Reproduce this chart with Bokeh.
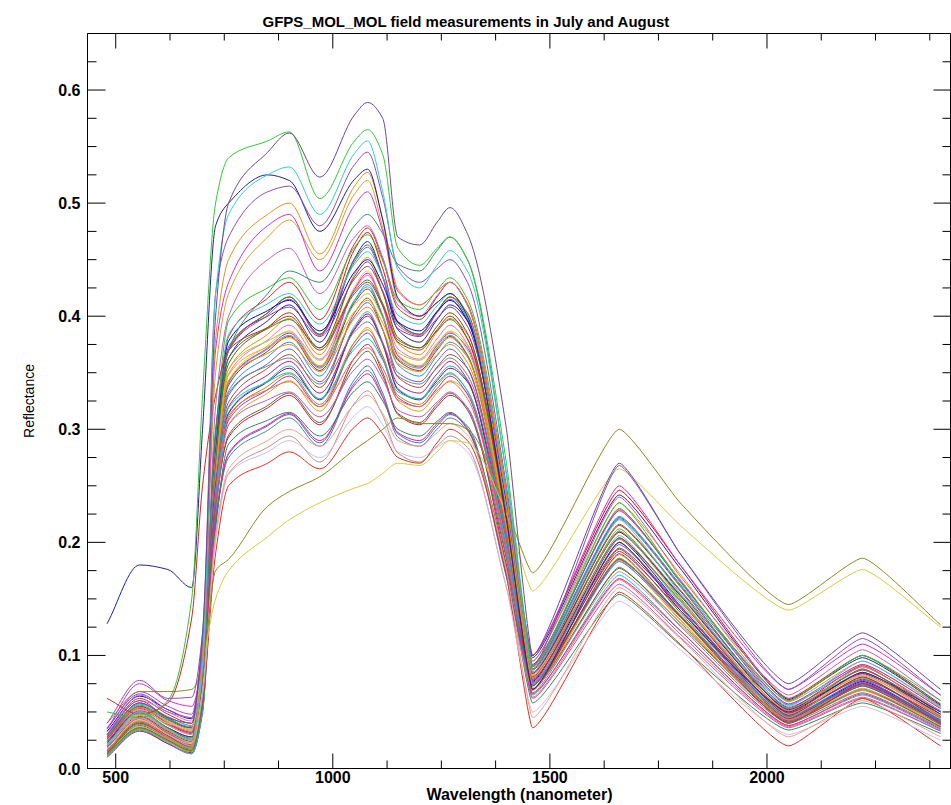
import math
from bokeh.plotting import figure
from bokeh.models import Range1d, LinearAxis, FixedTicker, PrintfTickFormatter, Title
from bokeh.embed import file_html
from bokeh.resources import INLINE

# wavelength nodes (nm) at which each spectrum is read
wavelength = [480, 555, 620, 675, 700, 730, 760, 850, 900, 970, 1050, 1080, 1115,
              1150, 1200, 1240, 1270, 1310, 1400, 1460, 1660, 1800, 2050, 2220, 2400]

x_major = [500, 1000, 1500, 2000]
x_minor = [625, 750, 875, 1125, 1250, 1375, 1625, 1750, 1875, 2125, 2250, 2375]
y_major = [0.0, 0.1, 0.2, 0.3, 0.4, 0.5, 0.6]
y_minor = [0.025, 0.05, 0.075, 0.125, 0.15, 0.175, 0.225, 0.25, 0.275, 0.325, 0.35,
           0.375, 0.425, 0.45, 0.475, 0.525, 0.55, 0.575, 0.625]

# main bundle of reflectance spectra
b01 = [0.030,0.062,0.048,0.040,0.100,0.296,0.382,0.416,0.430,0.397,0.464,0.478,0.450,0.407,0.397,0.417,0.430,0.411,0.239,0.091,0.229,0.167,0.053,0.091,0.048]
b02 = [0.022,0.055,0.040,0.032,0.090,0.293,0.396,0.425,0.434,0.406,0.461,0.472,0.449,0.414,0.406,0.423,0.434,0.415,0.245,0.080,0.212,0.151,0.047,0.080,0.042]
b03 = [0.018,0.045,0.032,0.022,0.070,0.289,0.363,0.396,0.410,0.377,0.451,0.466,0.435,0.388,0.377,0.397,0.410,0.396,0.224,0.098,0.242,0.177,0.061,0.098,0.056]
b04 = [0.035,0.068,0.055,0.048,0.110,0.286,0.369,0.401,0.415,0.383,0.448,0.461,0.434,0.392,0.383,0.403,0.415,0.396,0.231,0.088,0.221,0.161,0.051,0.088,0.046]
b05 = [0.015,0.040,0.028,0.018,0.060,0.283,0.384,0.411,0.420,0.393,0.446,0.457,0.435,0.401,0.393,0.409,0.420,0.402,0.238,0.078,0.206,0.146,0.046,0.078,0.041]
b06 = [0.025,0.052,0.038,0.030,0.080,0.280,0.353,0.384,0.398,0.366,0.437,0.452,0.422,0.376,0.366,0.386,0.398,0.384,0.217,0.095,0.235,0.172,0.059,0.095,0.054]
b07 = [0.012,0.036,0.025,0.016,0.055,0.278,0.358,0.390,0.403,0.372,0.435,0.448,0.421,0.381,0.372,0.391,0.403,0.385,0.224,0.085,0.215,0.157,0.049,0.085,0.045]
b08 = [0.028,0.058,0.045,0.036,0.090,0.275,0.373,0.400,0.408,0.382,0.433,0.444,0.422,0.389,0.382,0.398,0.408,0.391,0.231,0.075,0.200,0.142,0.044,0.075,0.040]
b09 = [0.020,0.048,0.034,0.025,0.070,0.273,0.343,0.374,0.387,0.356,0.426,0.440,0.411,0.366,0.356,0.375,0.387,0.374,0.211,0.092,0.229,0.167,0.057,0.092,0.053]
b10 = [0.032,0.060,0.050,0.042,0.100,0.270,0.349,0.379,0.392,0.362,0.423,0.436,0.410,0.371,0.362,0.380,0.392,0.375,0.218,0.083,0.209,0.153,0.048,0.083,0.044]
b11 = [0.014,0.038,0.026,0.017,0.060,0.268,0.363,0.389,0.397,0.372,0.422,0.432,0.411,0.379,0.372,0.387,0.397,0.380,0.225,0.073,0.194,0.138,0.043,0.073,0.039]
b12 = [0.024,0.050,0.036,0.028,0.075,0.265,0.334,0.364,0.377,0.347,0.414,0.428,0.400,0.357,0.347,0.365,0.377,0.364,0.205,0.090,0.223,0.163,0.056,0.090,0.051]
b13 = [0.010,0.033,0.022,0.014,0.050,0.263,0.339,0.369,0.382,0.352,0.412,0.424,0.399,0.361,0.352,0.370,0.382,0.365,0.212,0.081,0.204,0.148,0.047,0.081,0.042]
b14 = [0.026,0.054,0.042,0.034,0.085,0.260,0.353,0.378,0.386,0.361,0.410,0.420,0.399,0.368,0.361,0.376,0.386,0.370,0.218,0.071,0.189,0.134,0.042,0.071,0.038]
b15 = [0.018,0.044,0.030,0.021,0.065,0.258,0.324,0.354,0.366,0.337,0.403,0.416,0.388,0.346,0.337,0.355,0.366,0.354,0.200,0.087,0.216,0.158,0.054,0.087,0.050]
b16 = [0.036,0.066,0.052,0.045,0.110,0.255,0.330,0.358,0.371,0.342,0.400,0.412,0.388,0.350,0.342,0.360,0.371,0.354,0.206,0.078,0.198,0.144,0.045,0.078,0.041]
b17 = [0.012,0.035,0.024,0.015,0.055,0.253,0.343,0.367,0.375,0.351,0.398,0.408,0.388,0.358,0.351,0.366,0.375,0.359,0.212,0.069,0.184,0.131,0.041,0.069,0.037]
b18 = [0.022,0.049,0.035,0.027,0.070,0.250,0.315,0.343,0.356,0.327,0.391,0.404,0.377,0.336,0.327,0.345,0.356,0.343,0.194,0.085,0.210,0.154,0.053,0.085,0.048]
b19 = [0.016,0.042,0.029,0.020,0.060,0.248,0.320,0.348,0.360,0.332,0.388,0.400,0.376,0.340,0.332,0.349,0.360,0.344,0.200,0.076,0.192,0.140,0.044,0.076,0.040]
b20 = [0.030,0.057,0.046,0.038,0.090,0.245,0.332,0.356,0.363,0.340,0.386,0.395,0.376,0.347,0.340,0.354,0.363,0.348,0.205,0.067,0.178,0.126,0.040,0.067,0.036]
b21 = [0.013,0.037,0.026,0.016,0.055,0.242,0.304,0.332,0.343,0.316,0.377,0.390,0.364,0.325,0.316,0.332,0.343,0.332,0.187,0.082,0.203,0.148,0.051,0.082,0.047]
b22 = [0.024,0.051,0.039,0.031,0.080,0.239,0.308,0.335,0.347,0.320,0.374,0.385,0.362,0.328,0.320,0.336,0.347,0.331,0.193,0.073,0.185,0.135,0.042,0.073,0.039]
b23 = [0.011,0.034,0.023,0.013,0.050,0.236,0.319,0.342,0.350,0.327,0.371,0.380,0.361,0.333,0.327,0.341,0.350,0.334,0.198,0.065,0.171,0.122,0.038,0.065,0.034]
b24 = [0.020,0.046,0.033,0.024,0.065,0.233,0.293,0.319,0.330,0.304,0.363,0.375,0.350,0.313,0.304,0.320,0.330,0.319,0.180,0.079,0.195,0.143,0.049,0.079,0.045]
b25 = [0.028,0.055,0.043,0.035,0.085,0.229,0.295,0.321,0.332,0.306,0.358,0.369,0.347,0.314,0.306,0.322,0.332,0.317,0.185,0.070,0.177,0.129,0.041,0.070,0.037]
b26 = [0.015,0.039,0.027,0.018,0.060,0.224,0.304,0.326,0.333,0.311,0.353,0.362,0.344,0.317,0.311,0.324,0.333,0.319,0.188,0.062,0.163,0.116,0.036,0.062,0.033]
b27 = [0.019,0.045,0.031,0.022,0.065,0.221,0.278,0.303,0.313,0.288,0.344,0.356,0.332,0.296,0.288,0.303,0.313,0.303,0.171,0.075,0.185,0.135,0.046,0.075,0.043]
b28 = [0.026,0.053,0.040,0.032,0.080,0.216,0.279,0.304,0.314,0.290,0.339,0.349,0.328,0.297,0.290,0.305,0.314,0.300,0.175,0.066,0.168,0.122,0.038,0.066,0.035]
b29 = [0.013,0.036,0.025,0.016,0.055,0.212,0.287,0.308,0.315,0.294,0.334,0.342,0.325,0.300,0.294,0.307,0.315,0.301,0.178,0.058,0.154,0.109,0.034,0.058,0.031]
b30 = [0.021,0.047,0.034,0.025,0.070,0.207,0.261,0.284,0.294,0.271,0.323,0.334,0.312,0.279,0.271,0.285,0.294,0.284,0.160,0.070,0.174,0.127,0.043,0.070,0.040]
c01 = [0.026,0.058,0.044,0.036,0.090,0.294,0.370,0.403,0.417,0.384,0.459,0.474,0.442,0.395,0.384,0.404,0.417,0.403,0.228,0.100,0.246,0.180,0.062,0.100,0.057]
c02 = [0.016,0.041,0.029,0.019,0.060,0.287,0.370,0.403,0.417,0.384,0.450,0.463,0.435,0.394,0.384,0.404,0.417,0.398,0.232,0.088,0.222,0.162,0.051,0.088,0.046]
c03 = [0.033,0.064,0.052,0.044,0.100,0.279,0.378,0.405,0.414,0.387,0.439,0.450,0.428,0.395,0.387,0.404,0.414,0.396,0.234,0.077,0.203,0.144,0.045,0.077,0.041]
c04 = [0.011,0.034,0.022,0.013,0.050,0.272,0.342,0.372,0.385,0.355,0.424,0.438,0.409,0.365,0.355,0.374,0.385,0.372,0.210,0.092,0.228,0.166,0.057,0.092,0.053]
c05 = [0.029,0.056,0.044,0.037,0.085,0.264,0.341,0.371,0.383,0.354,0.414,0.426,0.401,0.362,0.354,0.372,0.383,0.366,0.213,0.081,0.204,0.149,0.047,0.081,0.043]
c06 = [0.019,0.045,0.032,0.023,0.065,0.257,0.348,0.373,0.381,0.356,0.404,0.414,0.394,0.363,0.356,0.371,0.381,0.364,0.215,0.070,0.186,0.132,0.041,0.070,0.037]
c07 = [0.023,0.050,0.036,0.028,0.075,0.249,0.314,0.342,0.354,0.326,0.389,0.402,0.375,0.335,0.326,0.343,0.354,0.342,0.193,0.084,0.209,0.153,0.052,0.084,0.048]
c08 = [0.012,0.035,0.024,0.015,0.055,0.241,0.310,0.338,0.349,0.322,0.377,0.388,0.365,0.330,0.322,0.339,0.349,0.334,0.194,0.074,0.186,0.136,0.043,0.074,0.039]
c09 = [0.027,0.054,0.041,0.033,0.080,0.231,0.312,0.335,0.342,0.320,0.363,0.372,0.354,0.326,0.320,0.334,0.342,0.327,0.193,0.063,0.167,0.119,0.037,0.063,0.033]
c10 = [0.016,0.040,0.028,0.019,0.060,0.218,0.275,0.299,0.310,0.285,0.341,0.352,0.329,0.293,0.285,0.300,0.310,0.299,0.169,0.074,0.183,0.134,0.046,0.074,0.042]

# distinct spectra
red_low  = [0.014,0.040,0.028,0.020,0.060,0.190,0.250,0.270,0.280,0.265,0.302,0.310,0.296,0.275,0.270,0.288,0.300,0.290,0.170,0.036,0.156,0.110,0.020,0.062,0.020]
lavender = [0.020,0.045,0.030,0.022,0.070,0.200,0.260,0.280,0.290,0.275,0.312,0.320,0.304,0.280,0.275,0.284,0.290,0.280,0.160,0.050,0.148,0.105,0.030,0.055,0.025]
salmon   = [0.018,0.043,0.030,0.020,0.065,0.205,0.265,0.290,0.300,0.285,0.322,0.330,0.314,0.290,0.285,0.297,0.305,0.295,0.175,0.045,0.160,0.115,0.028,0.060,0.028]
olive    = [0.040,0.068,0.068,0.070,0.090,0.175,0.185,0.232,0.245,0.258,0.282,0.290,0.300,0.310,0.305,0.305,0.305,0.300,0.230,0.173,0.300,0.235,0.145,0.186,0.127]
yellow   = [0.020,0.050,0.040,0.035,0.090,0.150,0.175,0.205,0.220,0.235,0.248,0.252,0.261,0.270,0.268,0.280,0.290,0.288,0.225,0.157,0.265,0.215,0.140,0.176,0.125]
purple   = [0.030,0.060,0.045,0.040,0.120,0.400,0.500,0.545,0.562,0.523,0.578,0.589,0.575,0.470,0.463,0.483,0.496,0.473,0.300,0.100,0.270,0.190,0.075,0.120,0.070]
green    = [0.050,0.045,0.060,0.150,0.330,0.500,0.540,0.555,0.563,0.504,0.555,0.565,0.543,0.460,0.445,0.460,0.470,0.450,0.270,0.090,0.235,0.165,0.060,0.100,0.060]
cyan     = [0.020,0.050,0.035,0.025,0.090,0.420,0.490,0.525,0.532,0.490,0.544,0.555,0.510,0.441,0.425,0.445,0.458,0.440,0.260,0.085,0.220,0.155,0.055,0.095,0.055]
purple2  = [0.040,0.078,0.062,0.063,0.120,0.420,0.470,0.510,0.515,0.480,0.534,0.545,0.505,0.444,0.430,0.442,0.450,0.430,0.250,0.090,0.268,0.190,0.070,0.115,0.065]
navy     = [0.128,0.180,0.176,0.160,0.300,0.480,0.500,0.525,0.520,0.475,0.521,0.530,0.485,0.416,0.400,0.412,0.420,0.400,0.220,0.070,0.200,0.140,0.050,0.085,0.050]
orange   = [0.016,0.042,0.028,0.018,0.100,0.380,0.450,0.490,0.500,0.455,0.515,0.527,0.486,0.424,0.410,0.422,0.430,0.410,0.240,0.080,0.210,0.150,0.050,0.090,0.050]
magenta  = [0.035,0.075,0.060,0.055,0.100,0.370,0.430,0.480,0.490,0.440,0.498,0.510,0.475,0.422,0.410,0.422,0.430,0.410,0.240,0.100,0.250,0.180,0.070,0.110,0.065]
golden   = [0.020,0.048,0.034,0.025,0.090,0.350,0.420,0.470,0.485,0.450,0.508,0.520,0.478,0.414,0.400,0.412,0.420,0.400,0.230,0.075,0.200,0.140,0.045,0.085,0.045]
teal     = [0.020,0.050,0.036,0.026,0.080,0.300,0.370,0.420,0.440,0.430,0.480,0.490,0.473,0.446,0.440,0.458,0.470,0.450,0.260,0.090,0.230,0.165,0.060,0.100,0.055]
orchid   = [0.030,0.065,0.050,0.045,0.080,0.320,0.400,0.450,0.460,0.420,0.470,0.480,0.452,0.410,0.400,0.418,0.430,0.410,0.240,0.095,0.240,0.170,0.065,0.105,0.060]
red_high = [0.062,0.048,0.058,0.133,0.250,0.330,0.370,0.390,0.400,0.370,0.420,0.430,0.409,0.377,0.370,0.388,0.400,0.380,0.220,0.070,0.190,0.135,0.040,0.075,0.040]

bundle = [b01, c01, b02, b03, c02, b04, b05, b06, c03, b07, b08, b09, c04, b10, b11,
          b12, c05, b13, b14, b15, c06, b16, b17, b18, c07, b19, b20, b21, c08, b22,
          b23, b24, c09, b25, b26, b27, c10, b28, b29, b30]
bundle_colors = ["#e6261f", "#ff0000", "#2fc42f", "#2222aa", "#00b000", "#cc33cc",
                 "#30c8c8", "#e69500", "#0000ff", "#8b4513", "#7b3fa0", "#d8d02a",
                 "#ff00ff", "#ff69b4", "#228b22", "#1e90ff", "#00c0c0", "#b22222",
                 "#9acd32", "#a0522d", "#ffa500", "#6a5acd", "#ff8c00", "#20b2aa",
                 "#800080", "#c71585", "#708090", "#daa520", "#b8860b", "#9932cc",
                 "#00ced1", "#dc143c", "#ff6347", "#556b2f", "#ba55d3", "#4169e1",
                 "#4682b4", "#ff1493", "#2e8b57", "#bc8f8f"]

specials = [red_low, lavender, salmon, olive, yellow, red_high, orchid, teal, golden,
            magenta, orange, navy, purple2, cyan, green, purple]
special_colors = ["#e03020", "#d4bce0", "#f0a090", "#8b8b22", "#d8cc40", "#d02820",
                  "#c060c0", "#3a8a6a", "#d8a030", "#d030d0", "#e89020", "#2020a0",
                  "#8a50b8", "#30d0d0", "#33c833", "#6a4a9a"]

FONT = "Liberation Sans"
x_lo, x_hi = 435, 2425
y_lo, y_hi = 0.0, 0.65
SWIR_START = 1400   # beyond this the spectra are drawn with straighter, corner-rounded segments

p = figure(width=951, height=805, x_range=Range1d(x_lo, x_hi), y_range=Range1d(y_lo, y_hi),
           output_backend="svg", toolbar_location=None,
           x_axis_type=None, y_axis_type=None,
           min_border_left=87, min_border_right=0, min_border_top=33, min_border_bottom=36)
p.background_fill_color = "white"
p.border_fill_color = "white"
p.outline_line_color = "black"
p.outline_line_width = 1
p.xgrid.visible = False
p.ygrid.visible = False


def smooth_line(xs, ys, color):
    """Draw the spectrum as a smooth monotone curve through its nodes using
    Bokeh's own bezier glyph; no extra data points are created."""
    n = len(xs)
    h = [xs[i + 1] - xs[i] for i in range(n - 1)]
    d = [(ys[i + 1] - ys[i]) / h[i] for i in range(n - 1)]
    m = [0.0] * n
    m[0], m[-1] = d[0], d[-1]
    for i in range(1, n - 1):
        if d[i - 1] * d[i] <= 0:
            m[i] = 0.0
        else:
            w1 = 2 * h[i] + h[i - 1]
            w2 = h[i] + 2 * h[i - 1]
            m[i] = (w1 + w2) / (w1 / d[i - 1] + w2 / d[i])
    cx0, cy0, cx1, cy1 = [], [], [], []
    for i in range(n - 1):
        k = 0.15 if xs[i] >= SWIR_START else 1.0 / 3.0
        cx0.append(xs[i] + k * h[i])
        cy0.append(ys[i] + m[i] * k * h[i])
        cx1.append(xs[i + 1] - k * h[i])
        cy1.append(ys[i + 1] - m[i + 1] * k * h[i])
    p.bezier(x0=xs[:-1], y0=ys[:-1], x1=xs[1:], y1=ys[1:],
             cx0=cx0, cy0=cy0, cx1=cx1, cy1=cy1, line_color=color, line_width=1)


for spec, col in zip(bundle, bundle_colors):
    smooth_line(wavelength, spec, col)
for spec, col in zip(specials, special_colors):
    smooth_line(wavelength, spec, col)

# inward tick marks (IDL style): dash markers centred on the frame edges,
# the outer half is clipped away by the frame
V = math.pi / 2
p.scatter([x_lo] * len(y_major), y_major, marker="dash", size=36, line_color="black", line_width=1)
p.scatter([x_lo] * len(y_minor), y_minor, marker="dash", size=18, line_color="black", line_width=1)
p.scatter([x_hi] * len(y_major), y_major, marker="dash", size=36, line_color="black", line_width=1)
p.scatter([x_hi] * len(y_minor), y_minor, marker="dash", size=18, line_color="black", line_width=1)
p.scatter(x_major, [y_lo] * len(x_major), marker="dash", size=30, angle=V, line_color="black", line_width=1)
p.scatter(x_minor, [y_lo] * len(x_minor), marker="dash", size=16, angle=V, line_color="black", line_width=1)
p.scatter(x_major, [y_hi] * len(x_major), marker="dash", size=30, angle=V, line_color="black", line_width=1)
p.scatter(x_minor, [y_hi] * len(x_minor), marker="dash", size=14, angle=V, line_color="black", line_width=1)

xt = FixedTicker(ticks=x_major, minor_ticks=x_minor)
yt = FixedTicker(ticks=y_major, minor_ticks=y_minor)


def label_axis(ticker, fmt, label, label_size, label_style, standoff, label_standoff):
    ax = LinearAxis(ticker=ticker, formatter=PrintfTickFormatter(format=fmt),
                    axis_label=label)
    ax.major_tick_in = 0
    ax.major_tick_out = 0
    ax.minor_tick_in = 0
    ax.minor_tick_out = 0
    ax.axis_line_color = "black"
    ax.major_tick_line_color = None
    ax.minor_tick_line_color = None
    ax.major_label_text_font = FONT
    ax.major_label_text_font_style = "bold"
    ax.major_label_text_font_size = "16px"
    ax.major_label_text_color = "black"
    ax.major_label_standoff = standoff
    ax.axis_label_text_font = FONT
    ax.axis_label_text_font_style = label_style
    ax.axis_label_text_font_size = label_size
    ax.axis_label_text_color = "black"
    ax.axis_label_standoff = label_standoff
    return ax


xb = label_axis(xt, "%d", "Wavelength (nanometer)", "16px", "bold", 2, 0)
p.add_layout(xb, "below")
yl = label_axis(yt, "%.1f", "Reflectance", "14px", "normal", 7, 18)
yl.major_label_orientation = "horizontal"
p.add_layout(yl, "left")

p.title = Title(text="GFPS_MOL_MOL field measurements in July and August",
                align="left", offset=175, text_font=FONT, text_font_size="15px",
                text_font_style="bold", text_color="black", standoff=8)

open("out.html", "w").write(file_html(p, INLINE))
